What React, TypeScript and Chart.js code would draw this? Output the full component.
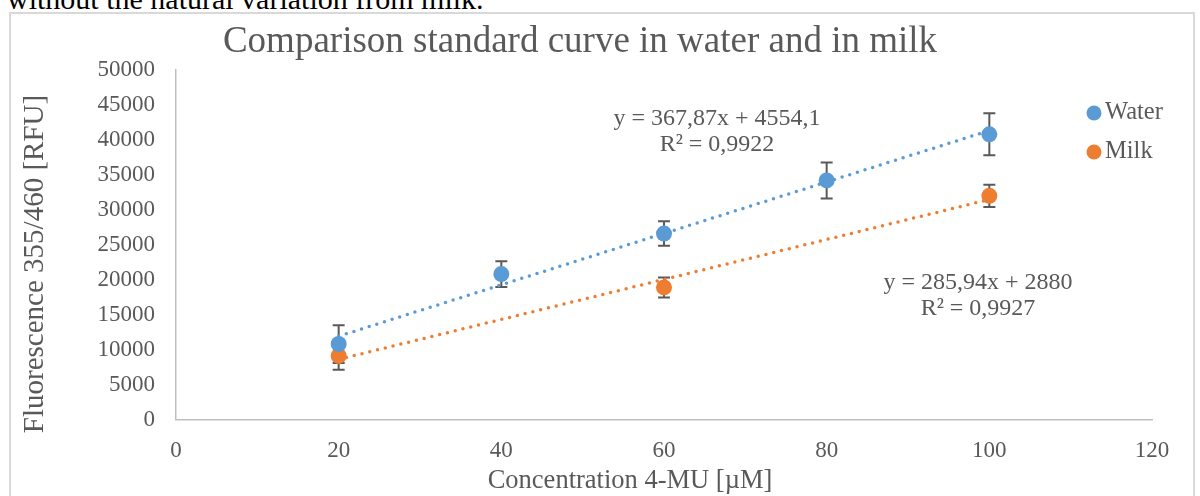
import React, { useEffect, useRef } from "react";
import { Chart, registerables } from "chart.js";

Chart.register(...registerables);

// ---- data ----
const waterConcentrations = [20, 40, 60, 80, 100];
const waterValues = [10800, 20800, 26600, 34200, 40800];
const waterErrors = [2700, 1850, 1750, 2580, 3000];

const milkConcentrations = [20, 60, 100];
const milkValues = [9100, 18900, 32000];
const milkErrors = [2000, 1430, 1600];

const waterFit = [367.87, 4554.1]; // slope, intercept
const milkFit = [285.94, 2880];
const fitRange = [20, 100];

const waterEquation = ["y = 367,87x + 4554,1", "R² = 0,9922"];
const milkEquation = ["y = 285,94x + 2880", "R² = 0,9927"];

const seriesNames = ["Water", "Milk"];
const chartTitle = "Comparison standard curve in water and in milk";
const xTitle = "Concentration 4-MU [µM]";
const yTitle = "Fluorescence 355/460 [RFU]";
const docText = "without the natural variation from milk.";

const BLUE = "#5B9BD5";
const ORANGE = "#ED7D31";
const TEXT = "#595959";
const FONT = '"Liberation Serif", "Times New Roman", serif';

const fitLine = (fit: number[]) =>
  fitRange.map((x) => ({ x, y: fit[0] * x + fit[1] }));

export default function App() {
  const canvasRef = useRef<HTMLCanvasElement | null>(null);

  useEffect(() => {
    const canvas = canvasRef.current;
    if (!canvas) return;

    const errorBars = {
      id: "errorBars",
      beforeDatasetsDraw(chart: any) {
        const { ctx, scales } = chart;
        const xs = scales.x;
        const ys = scales.y;
        const sets = [
          [waterConcentrations, waterValues, waterErrors],
          [milkConcentrations, milkValues, milkErrors],
        ];
        ctx.save();
        ctx.strokeStyle = TEXT;
        ctx.lineWidth = 2;
        sets.forEach(([xsArr, vals, errs]) => {
          xsArr.forEach((xv: number, i: number) => {
            const px = xs.getPixelForValue(xv);
            const top = ys.getPixelForValue(vals[i] + errs[i]);
            const bot = ys.getPixelForValue(vals[i] - errs[i]);
            ctx.beginPath();
            ctx.moveTo(px, top);
            ctx.lineTo(px, bot);
            ctx.moveTo(px - 6, top);
            ctx.lineTo(px + 6, top);
            ctx.moveTo(px - 6, bot);
            ctx.lineTo(px + 6, bot);
            ctx.stroke();
          });
        });
        ctx.restore();
      },
    };

    const texts = {
      id: "texts",
      afterDraw(chart: any) {
        const { ctx } = chart;
        ctx.save();
        ctx.fillStyle = TEXT;
        ctx.textAlign = "center";
        ctx.textBaseline = "middle";
        ctx.font = `37px ${FONT}`;
        ctx.fillText(chartTitle, 580, 42);

        ctx.font = `26.5px ${FONT}`;
        ctx.fillText(xTitle, 630, 481);
        ctx.save();
        ctx.font = `29px ${FONT}`;
        ctx.translate(35, 264);
        ctx.rotate(-Math.PI / 2);
        ctx.fillText(yTitle, 0, 0);
        ctx.restore();

        ctx.font = `24px ${FONT}`;
        ctx.fillText(waterEquation[0], 717, 119);
        ctx.fillText(waterEquation[1], 717, 145);
        ctx.fillText(milkEquation[0], 978, 283);
        ctx.fillText(milkEquation[1], 978, 309);

        // legend
        const colors = [BLUE, ORANGE];
        const ys = [113, 152];
        seriesNames.forEach((name, i) => {
          ctx.fillStyle = colors[i];
          ctx.beginPath();
          ctx.arc(1094, ys[i], 7.5, 0, Math.PI * 2);
          ctx.fill();
          ctx.fillStyle = TEXT;
          ctx.textAlign = "left";
          ctx.font = `24.5px ${FONT}`;
          ctx.fillText(name, 1105, ys[i]);
        });
        ctx.restore();
      },
    };

    const chart = new Chart(canvas, {
      type: "scatter",
      data: {
        datasets: [
          {
            label: seriesNames[0],
            data: waterConcentrations.map((x, i) => ({ x, y: waterValues[i] })),
            backgroundColor: BLUE,
            borderColor: BLUE,
            pointRadius: 8,
            pointBorderWidth: 0,
            showLine: false,
          },
          {
            label: seriesNames[1],
            data: milkConcentrations.map((x, i) => ({ x, y: milkValues[i] })),
            backgroundColor: ORANGE,
            borderColor: ORANGE,
            pointRadius: 8,
            pointBorderWidth: 0,
            showLine: false,
          },
          {
            label: "Water trend",
            data: fitLine(waterFit),
            borderColor: BLUE,
            borderWidth: 3.5,
            borderDash: [0, 8],
            borderCapStyle: "round",
            pointRadius: 0,
            showLine: true,
          },
          {
            label: "Milk trend",
            data: fitLine(milkFit),
            borderColor: ORANGE,
            borderWidth: 3.5,
            borderDash: [0, 8],
            borderCapStyle: "round",
            pointRadius: 0,
            showLine: true,
          },
        ],
      },
      options: {
        responsive: false,
        animation: false,
        devicePixelRatio: 1,
        layout: { padding: { left: 0, top: 70, right: 48, bottom: 0 } },
        plugins: {
          legend: { display: false },
          title: { display: false },
          tooltip: { enabled: false },
        },
        scales: {
          x: {
            type: "linear",
            min: 0,
            max: 120,
            ticks: {
              stepSize: 20,
              color: TEXT,
              font: { family: FONT, size: 23 },
              padding: 18,
              callback: (v: any) => String(v),
            },
            grid: { display: false, drawTicks: false },
            border: { display: true, color: "#bfbfbf", width: 1.5 },
            afterFit: (s: any) => {
              s.height = 76.5;
            },
          },
          y: {
            type: "linear",
            min: 0,
            max: 50000,
            ticks: {
              stepSize: 5000,
              color: TEXT,
              font: { family: FONT, size: 23 },
              padding: 21,
              callback: (v: any) => String(v),
            },
            grid: { display: false, drawTicks: false },
            border: { display: true, color: "#bfbfbf", width: 1.5 },
            afterFit: (s: any) => {
              s.width = 176;
            },
          },
        },
      },
      plugins: [errorBars, texts],
    });

    return () => chart.destroy();
  }, []);

  return (
    <div
      style={{
        position: "fixed",
        left: 0,
        top: 0,
        width: 1200,
        height: 496,
        overflow: "hidden",
        background: "#fff",
      }}
    >
      <div
        style={{
          position: "absolute",
          left: 7,
          top: -14,
          fontFamily: FONT,
          fontSize: 30,
          lineHeight: "26px",
          color: "#000",
          whiteSpace: "nowrap",
        }}
      >
        {docText}
      </div>
      <div
        style={{
          position: "absolute",
          left: 9,
          top: 12,
          width: 1186,
          height: 520,
          border: "2px solid #d9d9d9",
          boxSizing: "border-box",
        }}
      />
      <canvas
        ref={canvasRef}
        width={1200}
        height={496}
        style={{ position: "absolute", left: 0, top: 0, width: 1200, height: 496 }}
      />
    </div>
  );
}
